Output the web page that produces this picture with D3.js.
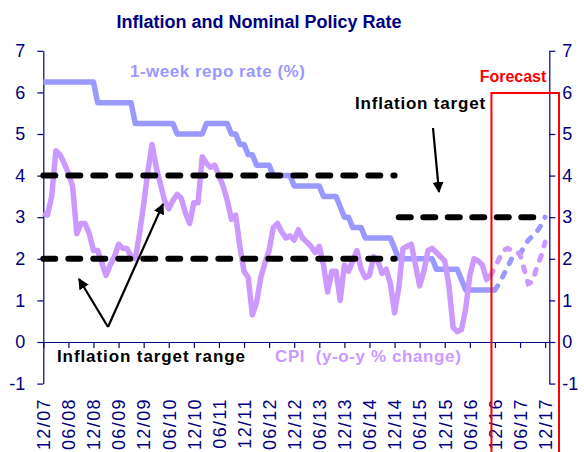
<!DOCTYPE html>
<html>
<head>
<meta charset="utf-8">
<script src="https://cdn.jsdelivr.net/npm/d3@7"></script>
<style>
  body { margin: 0; background: #fff; }
  text { font-family: "Liberation Sans", Arial, sans-serif; }
</style>
</head>
<body>
<div id="container"></div>
<script>
/* CONSTANTS AND GLOBALS */
const width = 584;
const height = 452;

// x ticks every 6 months, month 0 = Dec 2007
const tickLabels = ["12/07","06/08","12/08","06/09","12/09","06/10","12/10","06/11","12/11","06/12","12/12",
  "06/13","12/13","06/14","12/14","06/15","12/15","06/16","12/16","06/17","12/17"];
const yTicks = [-1, 0, 1, 2, 3, 4, 5, 6, 7];

// 1-week repo rate, monthly from 12/07 (actual)
const repoRate = [
  6.25,6.25,6.25,6.25,6.25,6.25,6.25,6.25,6.25,6.25,6.25,6.25,6.25,
  5.75,5.75,5.75,5.75,5.75,5.75,5.75,5.75,5.75,
  5.25,5.25,5.25,5.25,5.25,5.25,5.25,5.25,5.25,5.25,
  5.0,5.0,5.0,5.0,5.0,5.0,5.0,
  5.25,5.25,5.25,5.25,5.25,5.25,
  5.0,5.0,4.75,4.75,4.5,4.5,
  4.25,4.25,4.25,4.25,
  4.0,4.0,4.0,4.0,4.0,
  3.75,3.75,3.75,3.75,3.75,3.75,3.75,
  3.5,3.5,3.5,3.5,3.25,3.0,3.0,
  2.75,2.75,2.75,
  2.5,2.5,2.5,2.5,2.5,2.5,2.5,2.25,
  2.0,2.0,2.0,2.0,2.0,2.0,2.0,2.0,2.0,
  1.75,1.75,1.75,1.75,1.75,1.75,1.5,
  1.25,1.25,1.25,1.25,1.25,1.25,1.25,1.25];
const repoStart = 0;
// forecast from 12/16
const repoForecast = [1.25,1.4,1.6,1.8,2.0,2.05,2.1,2.3,2.45,2.55,2.65,2.8,3.0];
const repoForecastStart = 108;

// CPI y-o-y % change, monthly from 12/07
const cpi = [
  3.1,3.05,3.5,4.6,4.5,4.3,4.05,3.75,2.6,2.85,2.85,2.6,
  2.2,2.2,1.9,1.6,1.85,2.05,2.35,2.25,2.25,2.05,2.0,2.6,
  3.3,4.1,4.75,4.2,3.8,3.4,3.2,3.4,3.55,3.45,3.1,2.85,
  3.35,3.35,4.45,4.3,4.2,4.25,4.0,3.75,3.4,2.95,3.05,2.3,
  1.7,1.55,0.65,0.95,1.55,1.9,2.2,2.75,2.85,2.65,2.5,2.55,
  2.45,2.7,2.5,2.4,2.3,2.15,2.3,1.85,1.2,1.7,1.7,1.0,
  1.85,1.7,1.95,2.2,1.75,1.55,1.6,2.05,1.95,1.65,1.75,1.4,
  0.7,1.3,2.25,2.3,2.35,1.85,1.35,1.7,2.2,2.25,2.15,2.05,
  1.95,1.35,0.35,0.25,0.3,0.8,1.6,2.0,1.95,1.85,1.5,1.6];
const cpiForecast = [1.6,1.8,2.0,2.2,2.25,2.2,2.2,2.1,1.75,1.4,1.45,1.8,2.05,2.4];
const cpiForecastStart = 107;

// inflation target range 2-4 until 12/14, then point target 3
const targetRange = [2, 4];
const targetRangeMonths = [0, 84];
const target = 3;
const targetMonths = [85, 118];
const forecastMonth = 108;

/* SCALES */
const x = d3.scaleLinear().domain([0, 121]).range([43.3, 549.3]);
const y = d3.scaleLinear().domain([-1, 7]).range([383.6, 50.8]);

/* HTML ELEMENTS */
const svg = d3.select("#container")
  .append("svg")
  .attr("width", width)
  .attr("height", height);

// title
svg.append("text")
  .attr("x", 259).attr("y", 28)
  .attr("text-anchor", "middle")
  .attr("font-size", 18).attr("font-weight", "bold")
  .attr("fill", "#000080")
  .text("Inflation and Nominal Policy Rate");

// axes
const navy = "#000080";
const xAxis = svg.append("g")
  .attr("transform", `translate(0,${y(0)})`)
  .call(d3.axisBottom(x).tickValues(d3.range(0, 121, 6)).tickFormat((d, i) => tickLabels[i]).tickSize(6).tickSizeOuter(0));
xAxis.selectAll("text")
  .attr("transform", "rotate(-90)")
  .attr("x", -56).attr("y", 0).attr("dy", "0.35em")
  .attr("text-anchor", "end")
  .attr("font-size", 18).attr("letter-spacing", 1.4);

const yLeft = svg.append("g")
  .attr("transform", `translate(${x(0)},0)`)
  .call(d3.axisLeft(y).tickValues(yTicks).tickFormat(d => String(d)).tickSize(6).tickSizeOuter(0).tickPadding(12));
const yRight = svg.append("g")
  .attr("transform", `translate(${x(121)},0)`)
  .call(d3.axisRight(y).tickValues(yTicks).tickFormat(d => String(d)).tickSize(6).tickSizeOuter(0).tickPadding(7));

[xAxis, yLeft, yRight].forEach(g => {
  g.attr("font-family", null).attr("font-size", null);
  g.selectAll("path, line").attr("stroke", navy).attr("stroke-width", 1.2);
  g.selectAll("text").attr("fill", navy);
});
yLeft.selectAll("text").attr("font-size", 18);
yRight.selectAll("text").attr("font-size", 18);

// lines
const line = d3.line().x(d => x(d[0])).y(d => y(d[1]));
const repoColor = "#9999ff";
const cpiColor = "#cc99ff";

const repoData = repoRate.map((v, i) => [repoStart + i, v]);
const repoFc = repoForecast.map((v, i) => [repoForecastStart + i, v]);
const cpiData = cpi.map((v, i) => [i, v]);
const cpiFc = cpiForecast.map((v, i) => [cpiForecastStart + i, v]);

svg.append("path").datum(repoData)
  .attr("d", line).attr("fill", "none")
  .attr("stroke", repoColor).attr("stroke-width", 5.5).attr("stroke-linejoin", "round");
svg.append("path").datum(repoFc)
  .attr("d", line).attr("fill", "none")
  .attr("stroke", repoColor).attr("stroke-width", 5).attr("stroke-linecap", "round")
  .attr("stroke-dasharray", "5,10");

svg.append("path").datum(cpiData)
  .attr("d", line).attr("fill", "none")
  .attr("stroke", cpiColor).attr("stroke-width", 5.5).attr("stroke-linejoin", "round");
svg.append("path").datum(cpiFc)
  .attr("d", line).attr("fill", "none")
  .attr("stroke", cpiColor).attr("stroke-width", 5).attr("stroke-linecap", "round")
  .attr("stroke-dasharray", "5,10");

// inflation targets
targetRange.forEach(t => {
  svg.append("line")
    .attr("x1", x(targetRangeMonths[0])).attr("x2", x(targetRangeMonths[1]))
    .attr("y1", y(t)).attr("y2", y(t))
    .attr("stroke", "#000").attr("stroke-width", 6)
    .attr("stroke-linecap", "round").attr("stroke-dasharray", "12,13");
});
svg.append("line")
  .attr("x1", x(targetMonths[0])).attr("x2", x(targetMonths[1]))
  .attr("y1", y(target)).attr("y2", y(target))
  .attr("stroke", "#000").attr("stroke-width", 6)
  .attr("stroke-linecap", "round").attr("stroke-dasharray", "12,12.5");

// forecast box
svg.append("rect")
  .attr("x", x(forecastMonth) - 3.5).attr("y", 93)
  .attr("width", 559 - (x(forecastMonth) - 3.5)).attr("height", 400)
  .attr("fill", "none").attr("stroke", "#ff0000").attr("stroke-width", 2);
svg.append("text")
  .attr("x", 513).attr("y", 82)
  .attr("text-anchor", "middle")
  .attr("font-size", 16).attr("font-weight", "bold").attr("fill", "#ff0000")
  .text("Forecast");

// arrows
const defs = svg.append("defs");
defs.append("marker")
  .attr("id", "head")
  .attr("viewBox", "0 0 10 10")
  .attr("refX", 9).attr("refY", 5)
  .attr("markerWidth", 5).attr("markerHeight", 5)
  .attr("markerUnits", "strokeWidth")
  .attr("orient", "auto")
  .append("path").attr("d", "M0,0 L10,5 L0,10 z").attr("fill", "#000");

const arrows = [
  [433, 128, 439, 192],
  [108, 327, 79, 279],
  [108, 327, 163, 204]
];
svg.selectAll(".arrow")
  .data(arrows)
  .join("line")
  .attr("class", "arrow")
  .attr("x1", d => d[0]).attr("y1", d => d[1])
  .attr("x2", d => d[2]).attr("y2", d => d[3])
  .attr("stroke", "#000").attr("stroke-width", 2.2)
  .attr("marker-end", "url(#head)");

// labels
svg.append("text")
  .attr("x", 130).attr("y", 77)
  .attr("font-size", 17).attr("font-weight", "bold").attr("fill", repoColor)
  .attr("letter-spacing", 0.5)
  .text("1-week repo rate (%)");
svg.append("text")
  .attr("x", 355).attr("y", 109)
  .attr("font-size", 17).attr("font-weight", "bold").attr("fill", "#000")
  .attr("letter-spacing", 0.8)
  .text("Inflation target");
svg.append("text")
  .attr("x", 57).attr("y", 362)
  .attr("font-size", 17).attr("font-weight", "bold").attr("fill", "#000")
  .attr("letter-spacing", 0.9)
  .text("Inflation target range");
svg.append("text")
  .attr("x", 275).attr("y", 362)
  .attr("font-size", 17).attr("font-weight", "bold").attr("fill", cpiColor)
  .attr("letter-spacing", 0.6)
  .attr("xml:space", "preserve")
  .text("CPI  (y-o-y % change)");
</script>
</body>
</html>
